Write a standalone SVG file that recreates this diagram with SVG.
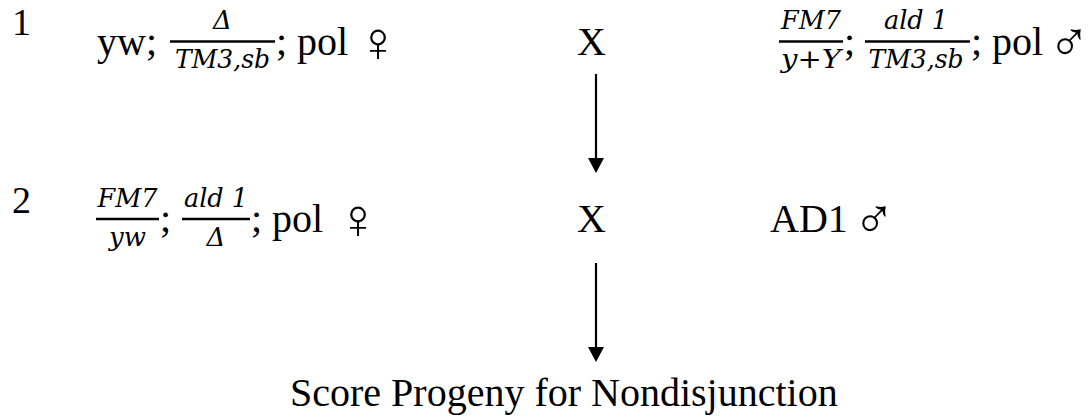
<svg xmlns="http://www.w3.org/2000/svg" width="1088" height="417" viewBox="0 0 1088 417">
<defs>
<style>
.t{font-family:"Liberation Serif","Times New Roman",serif;font-size:40px;fill:#000}
.lbl{font-family:"Liberation Serif","Times New Roman",serif;font-size:38px;fill:#000}
.m{font-family:"DejaVu Serif",serif;font-style:italic;font-size:26px;fill:#000}
.sym{font-family:"DejaVu Sans",sans-serif;font-size:56px;font-weight:200;fill:#000}
.bar{stroke:#000;stroke-width:2.6}
.conn{stroke:#000;stroke-width:2.2;fill:none}
</style>
<marker id="ah" markerUnits="userSpaceOnUse" markerWidth="15" markerHeight="16" refX="0" refY="8" viewBox="0 0 15 16" orient="auto">
<path d="M0,0 L15,8 L0,16 Z" fill="#000"/>
</marker>
</defs>
<g id="row1-label"><text class="lbl" x="12" y="35">1</text></g>
<g id="female1">
<text class="t" x="97" y="55">yw;</text>
<line class="bar" x1="170" y1="41.5" x2="275" y2="41.5"/>
<text class="m" x="222.5" y="29" text-anchor="middle">Δ</text>
<text class="m" x="222.5" y="68" text-anchor="middle" textLength="95" lengthAdjust="spacingAndGlyphs">TM3,sb</text>
<text class="t" x="276" y="55">; pol</text>
<text class="sym" x="357" y="61">♀</text>
</g>
<g id="cross1"><text class="t" x="577" y="55">X</text></g>
<g id="male1">
<line class="bar" x1="779" y1="41.5" x2="843" y2="41.5"/>
<text class="m" x="811" y="29" text-anchor="middle" textLength="60" lengthAdjust="spacingAndGlyphs">FM7</text>
<text class="m" x="811" y="68" text-anchor="middle" textLength="60" lengthAdjust="spacingAndGlyphs">y+Y</text>
<text class="t" x="844" y="55">;</text>
<line class="bar" x1="865" y1="41.5" x2="970" y2="41.5"/>
<text class="m" x="916" y="29" text-anchor="middle" textLength="64" lengthAdjust="spacingAndGlyphs">ald 1</text>
<text class="m" x="916" y="68" text-anchor="middle" textLength="95" lengthAdjust="spacingAndGlyphs">TM3,sb</text>
<text class="t" x="971" y="55">; pol</text>
<text class="sym" x="1048" y="61">♂</text>
</g>
<g id="row2-label"><text class="lbl" x="12" y="213">2</text></g>
<g id="female2">
<line class="bar" x1="96" y1="219" x2="159" y2="219"/>
<text class="m" x="127.5" y="206.5" text-anchor="middle" textLength="60" lengthAdjust="spacingAndGlyphs">FM7</text>
<text class="m" x="127.5" y="245.5" text-anchor="middle">yw</text>
<text class="t" x="160" y="232">;</text>
<line class="bar" x1="182" y1="219" x2="250" y2="219"/>
<text class="m" x="216" y="206.5" text-anchor="middle" textLength="64" lengthAdjust="spacingAndGlyphs">ald 1</text>
<text class="m" x="216" y="246" text-anchor="middle">Δ</text>
<text class="t" x="251" y="232">; pol</text>
<text class="sym" x="337" y="238">♀</text>
</g>
<g id="cross2"><text class="t" x="577" y="232">X</text></g>
<g id="male2">
<text class="t" x="770" y="232">AD1</text>
<text class="sym" x="853" y="238">♂</text>
</g>
<g id="connectors">
<line class="conn" x1="596" y1="74" x2="596" y2="158" marker-end="url(#ah)"/>
<line class="conn" x1="596" y1="263" x2="596" y2="347" marker-end="url(#ah)"/>
</g>
<g id="result"><text class="t" x="290" y="406">Score Progeny for Nondisjunction</text></g>
</svg>
